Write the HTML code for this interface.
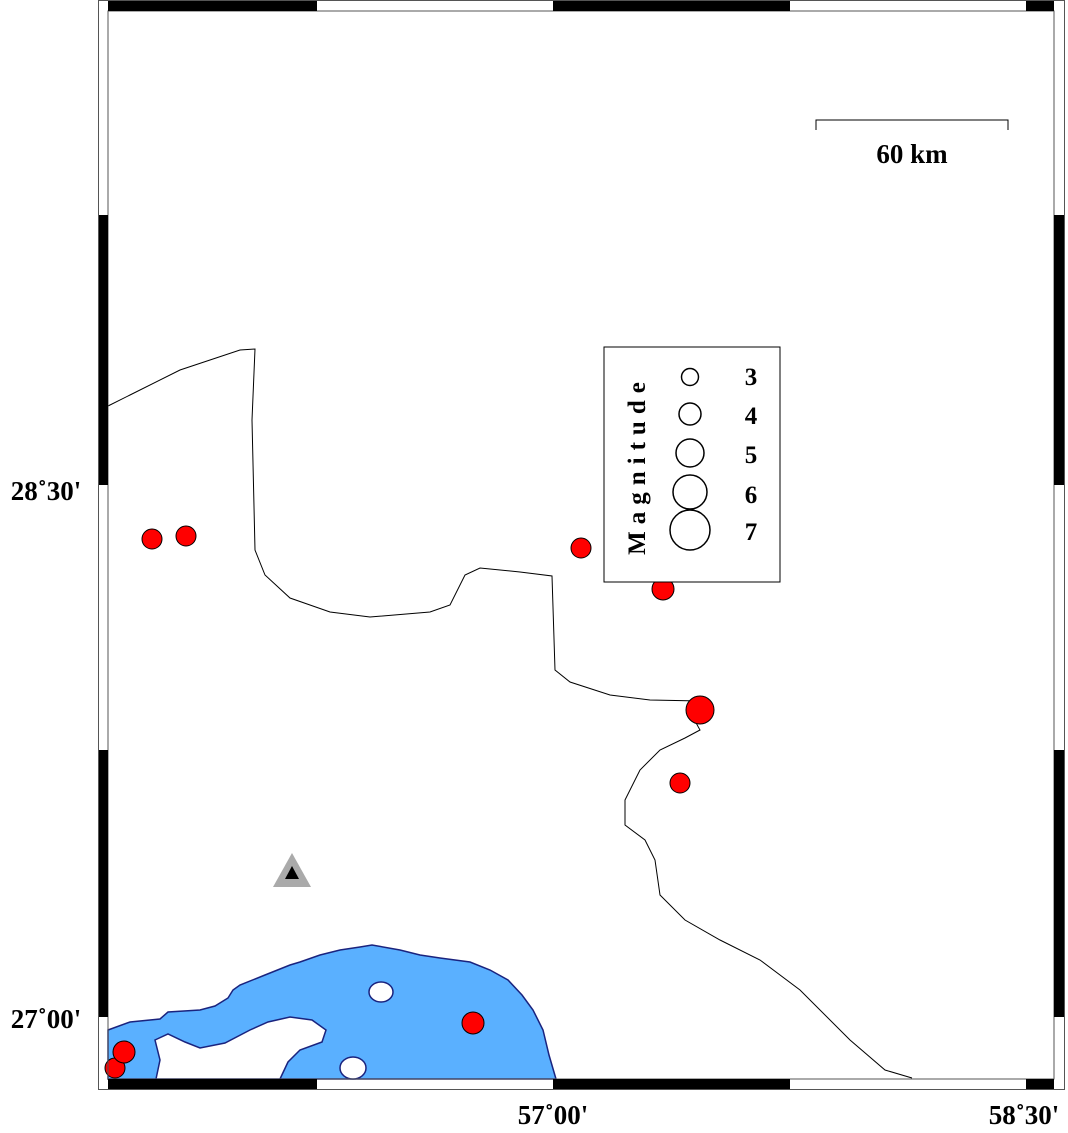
<!DOCTYPE html>
<html><head><style>
html,body{margin:0;padding:0;background:#fff;}
svg text{font-family:"Liberation Serif",serif;font-weight:bold;}
</style></head><body>
<svg width="1068" height="1128" viewBox="0 0 1068 1128" xmlns="http://www.w3.org/2000/svg">
<rect width="1068" height="1128" fill="#fff"/>
<polygon fill="#5ab0ff" stroke="#1a237e" stroke-width="1.5" points="108,1030 130,1022 160,1019 168,1012 200,1010 215,1006 228,998 233,990 240,985 265,975 290,965 300,962 320,955 340,950 360,947 372,945 400,950 420,955 440,958 470,962 490,970 508,980 522,995 533,1010 543,1030 549,1055 556,1079 108,1079"/>
<polygon fill="#fff" stroke="#1a237e" stroke-width="1.5" points="156,1079 160,1060 155,1040 168,1034 185,1042 200,1048 225,1043 250,1030 268,1022 290,1017 312,1020 326,1030 322,1042 300,1050 288,1062 280,1079"/>
<ellipse cx="381" cy="992" rx="12" ry="10" fill="#fff" stroke="#1a237e" stroke-width="1.5"/>
<ellipse cx="353" cy="1068" rx="13" ry="11" fill="#fff" stroke="#1a237e" stroke-width="1.5"/>
<polyline fill="none" stroke="#000" stroke-width="1" points="108,406 130,395 180,370 240,350 255,349 252,420 255,550 265,575 290,598 330,612 370,617 430,612 450,605 465,575 480,568 520,572 552,576 555,670 570,682 610,695 650,700 700,701 690,712 700,730 685,738 660,750 640,770 625,800 625,825 645,840 655,860 660,895 685,920 720,940 760,960 800,990 850,1040 885,1070 912,1078"/>
<g fill="#ff0000" stroke="#000" stroke-width="1">
<circle cx="152" cy="539" r="10"/><circle cx="186" cy="536" r="10"/>
<circle cx="581" cy="548" r="10"/><circle cx="663" cy="589" r="11"/>
<circle cx="700" cy="710" r="14"/><circle cx="680" cy="783" r="10"/>
<circle cx="473" cy="1023" r="11"/><circle cx="115" cy="1068" r="10"/>
<circle cx="124" cy="1052" r="11"/>
</g>
<polygon points="292,853 273,887 311,887" fill="#aaa"/>
<polygon points="292,866 285,879 299,879" fill="#000"/>
<rect x="604" y="347" width="176" height="235" fill="#fff" stroke="#000" stroke-width="1"/>
<text x="0" y="0" transform="translate(645,465) rotate(-90)" font-size="25" text-anchor="middle" letter-spacing="7">Magnitude</text>
<g fill="none" stroke="#000" stroke-width="1.5">
<circle cx="690" cy="377" r="8.5"/><circle cx="690" cy="414" r="11"/>
<circle cx="690" cy="453" r="14"/><circle cx="690" cy="492" r="17"/>
<circle cx="690" cy="530" r="20"/>
</g>
<g font-size="25" text-anchor="middle">
<text x="751" y="385">3</text><text x="751" y="424">4</text><text x="751" y="463">5</text><text x="751" y="503">6</text><text x="751" y="540">7</text>
</g>
<polyline points="816,130 816,120 1008,120 1008,130" fill="none" stroke="#000" stroke-width="1"/>
<text x="912" y="163" font-size="27" text-anchor="middle">60 km</text>
<rect x="98.5" y="0.5" width="966" height="1089" fill="none" stroke="#555" stroke-width="1"/>
<rect x="108" y="11" width="946" height="1068" fill="none" stroke="#555" stroke-width="1"/>
<g fill="#000">
<rect x="108" y="1" width="209" height="10"/><rect x="553" y="1" width="237" height="10"/><rect x="1026" y="1" width="28" height="10"/>
<rect x="108" y="1079" width="209" height="10"/><rect x="553" y="1079" width="237" height="10"/><rect x="1026" y="1079" width="28" height="10"/>
<rect x="99" y="215" width="9" height="270"/><rect x="99" y="750" width="9" height="267"/>
<rect x="1054" y="215" width="10" height="270"/><rect x="1054" y="750" width="10" height="267"/>
</g>
<g font-size="27">
<text x="46" y="500" text-anchor="middle">28˚30'</text>
<text x="46" y="1028" text-anchor="middle">27˚00'</text>
<text x="553" y="1124" text-anchor="middle">57˚00'</text>
<text x="1024" y="1124" text-anchor="middle">58˚30'</text>
</g>
</svg>
</body></html>
